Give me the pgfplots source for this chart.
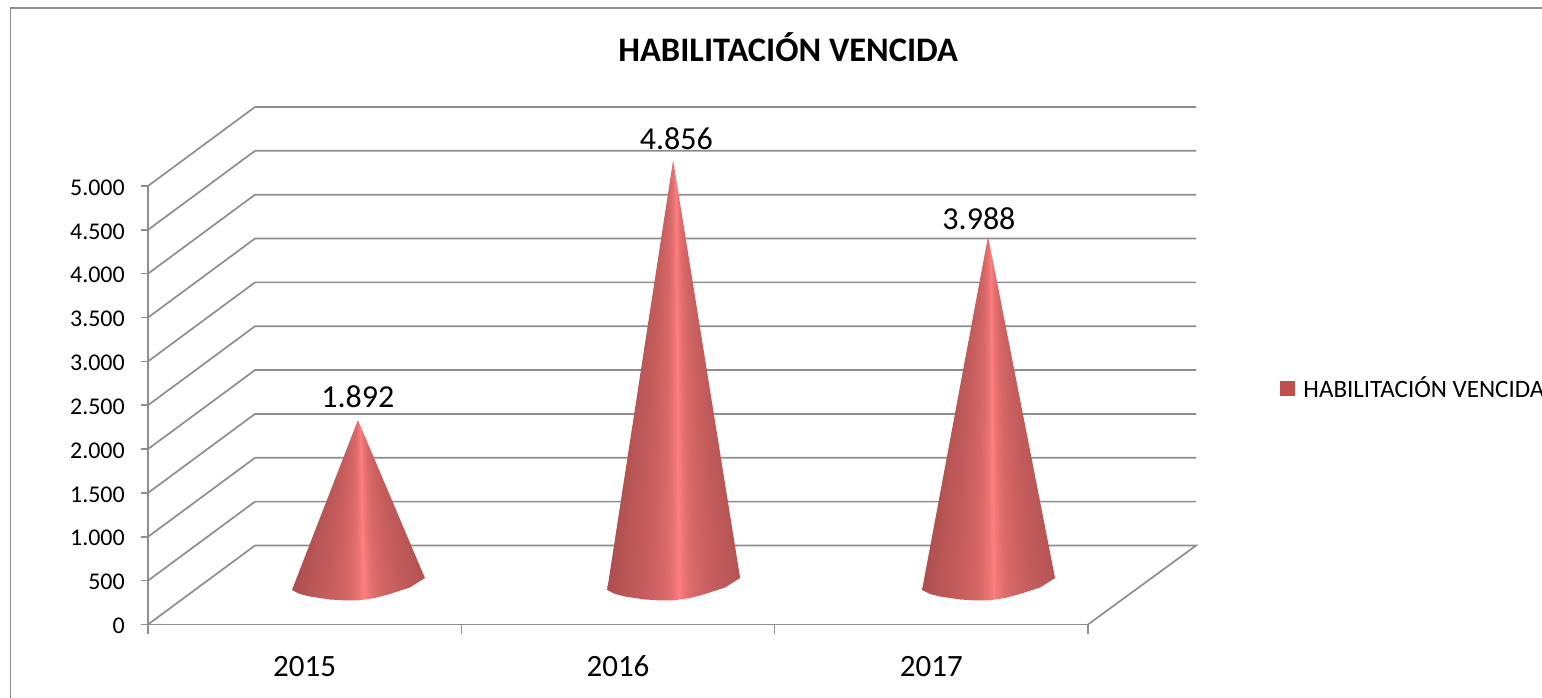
\documentclass[border=0pt]{standalone}
\usepackage{fontspec}
\setmainfont{Carlito}
\usepackage{pgfplots}
\usepackage{pgfplotstable}
\pgfplotsset{compat=1.18}
\definecolor{linegray}{HTML}{8E8E8E}
\definecolor{serie}{HTML}{C0504D}

% colour depends on the angle at the tip, so the bands run along the cone
\pgfdeclarefunctionalshading{conefn}{\pgfpointorigin}{\pgfpoint{100bp}{100bp}}{}{
  100.01 exch sub exch 50 sub exch div 1.9 mul
  0.05 sub abs 1 exch sub dup 0 lt {pop 0} if
  dup 0.4 exp 0.72 mul exch 10 exp 0.28 mul add
  dup 0.58 mul 0.42 add exch dup 0.35 mul 0.15 add exch 0.35 mul 0.15 add
}

% outline of a cone: u = offset from the centre, b = height of the base, h = 1 at the tip
\pgfplotstableread{
u       b     h
0       439   1
0.2138  530   0
0.1660  422   0
0.1020  348   0
0.0540  302   0
0       274   0
-0.0415 274   0
-0.0894 285   0
-0.1532 319   0
-0.1851 348   0
-0.2106 393   0
}\coneshape

\pgfplotstableread{
x      lab    v     off
0.670  0.670  1892  462
1.676  1.686  4856  439
2.681  2.652  3988  405
}\datos

\newcommand{\cone}[2]{
  \addplot[draw=none, shade, shading=conefn, forget plot]
    table[x expr=\thisrow{u}+#1, y expr=\thisrow{b}+\thisrow{h}*#2] {\coneshape} -- cycle;
}

\begin{document}
\begin{tikzpicture}
\path[use as bounding box] (0,0) rectangle (1542pt,698pt);
\draw[linegray, line width=1.7pt] (1542pt,690pt) -- (10.5pt,690pt) -- (10.5pt,0pt);
\begin{axis}[
    at={(148pt,73.5pt)}, anchor=south west,
    scale only axis, width=940pt, height=438.5pt,
    xmin=0, xmax=3, ymin=0, ymax=5000,
    clip=false,
    axis x line=bottom, axis y line=left,
    axis line style={linegray, line width=1.5pt, -},
    xtick={0,1,2,3}, x tick label as interval,
    xticklabels={2015,2016,2017},
    ytick={0,500,...,5000},
    tick align=outside,
    tick style={linegray, line width=1.5pt},
    major tick length=7pt,
    xtick style={/pgfplots/major tick length=10pt},
    /pgf/number format/assume math mode=true,
    /pgf/number format/1000 sep={.},
    yticklabel style={font=\fontsize{24}{28}\selectfont, inner sep=0pt, xshift=-16pt, yshift=-1.5pt},
    xticklabel style={font=\fontsize{31}{36}\selectfont, yshift=-21pt},
    title={HABILITACIÓN VENCIDA},
    title style={at={(0.681,1.303)}, anchor=center, font=\fontsize{34.4}{40}\selectfont\bfseries},
    legend style={at={(1.2043,0.539)}, anchor=west, draw=none, fill=none,
      font=\fontsize{25}{30}\selectfont, inner sep=0pt, outer sep=0pt,
      /tikz/every odd column/.append style={column sep=7pt}},
    legend cell align=left,
]
% walls and floor
\addplot[linegray, line width=1.7pt, forget plot] coordinates {(0,0) (0.3415,901) (3.345,901) (3,0)};
\addplot[linegray, line width=1.7pt, forget plot] coordinates {(0,500) (0.3415,1401) (3.345,1401)};
\addplot[linegray, line width=1.7pt, forget plot] coordinates {(0,1000) (0.3415,1901) (3.345,1901)};
\addplot[linegray, line width=1.7pt, forget plot] coordinates {(0,1500) (0.3415,2401) (3.345,2401)};
\addplot[linegray, line width=1.7pt, forget plot] coordinates {(0,2000) (0.3415,2901) (3.345,2901)};
\addplot[linegray, line width=1.7pt, forget plot] coordinates {(0,2500) (0.3415,3401) (3.345,3401)};
\addplot[linegray, line width=1.7pt, forget plot] coordinates {(0,3000) (0.3415,3901) (3.345,3901)};
\addplot[linegray, line width=1.7pt, forget plot] coordinates {(0,3500) (0.3415,4401) (3.345,4401)};
\addplot[linegray, line width=1.7pt, forget plot] coordinates {(0,4000) (0.3415,4901) (3.345,4901)};
\addplot[linegray, line width=1.7pt, forget plot] coordinates {(0,4500) (0.3415,5401) (3.345,5401)};
\addplot[linegray, line width=1.7pt, forget plot] coordinates {(0,5000) (0.3415,5901) (3.345,5901)};
% cones
\cone{0.670}{1892}
\cone{1.676}{4856}
\cone{2.681}{3988}
% value labels
\addplot[draw=none, forget plot, nodes near coords,
    point meta=explicit,
    every node near coord/.append style={font=\fontsize{32}{36}\selectfont, anchor=center, yshift=21pt,
      /pgf/number format/assume math mode=true, /pgf/number format/1000 sep={.}}]
  table[x=lab, y expr=\thisrow{v}+\thisrow{off}, meta=v] {\datos};
\addlegendimage{legend image code/.code={\fill[serie] (0pt,-7pt) rectangle (14pt,7pt);}}
\addlegendentry{HABILITACIÓN VENCIDA}
\end{axis}
\end{tikzpicture}
\end{document}
